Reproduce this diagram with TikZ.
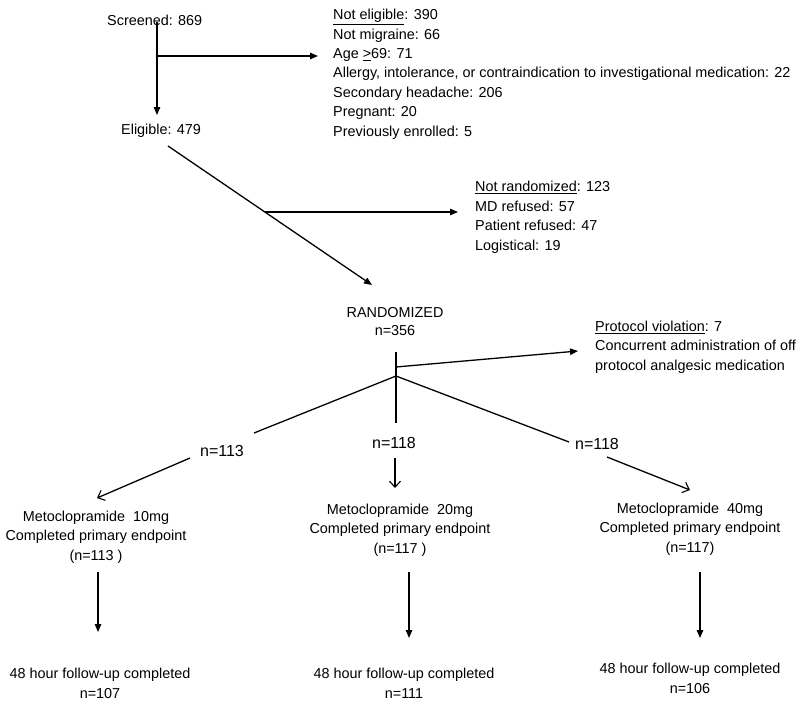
\documentclass[tikz,border=0pt]{standalone}
\usepackage{fontspec}
\setmainfont{Liberation Sans}
\usetikzlibrary{arrows.meta,positioning}

\begin{document}
\begin{tikzpicture}[x=1pt,y=-1pt,
    txt/.style={inner sep=0pt,font=\fontsize{14.4}{19.4}\selectfont},
    big/.style={inner sep=0pt,font=\fontsize{16}{19}\selectfont},
    ln/.style={line width=1.3pt},
    tri/.style={ln,-{Triangle[length=8pt,width=6.5pt]}},
    barb/.style={ln,-{Straight Barb[length=6pt,width=11pt,line width=1.1pt]}}]
    \useasboundingbox (0,0) rectangle (800,707);

    % Screening (base = last line of each text)
    \node[txt,anchor=base west] (scr) at (107,25) {Screened: 869};
    \node[txt,anchor=base west] (elig) at (121,134) {Eligible: 479};
    \node[txt,anchor=base west,align=left] (notel) at (333,136) {\underline{Not eligible}: 390\\
        Not migraine: 66\\
        Age \underline{>}69: 71\\
        Allergy, intolerance, or contraindication to investigational medication: 22\\
        Secondary headache: 206\\
        Pregnant: 20\\
        Previously enrolled: 5};
    \coordinate (scrtop) at (157,22);
    \coordinate (scrbr) at (157,56);
    \coordinate (eltop) at (157,115);
    \coordinate (notelin) at (318,56);
    \draw[tri] (scrtop) -- (eltop);
    \draw[tri] (scrbr) -- (notelin);

    % Randomization
    \node[txt,anchor=base west,align=left] (notrand) at (475,250) {\underline{Not randomized}: 123\\
        MD refused: 57\\
        Patient refused: 47\\
        Logistical: 19};
    \node[txt,anchor=base,align=center,font=\fontsize{14.4}{18}\selectfont] (rand) at (395,335) {RANDOMIZED\\n=356};
    \coordinate (elbot) at (168,146);
    \coordinate (randin) at (372,285);
    \coordinate (elbr) at (265,212);
    \coordinate (notrandin) at (458,212);
    \draw[tri] (elbot) -- (randin);
    \draw[tri] (elbr) -- (notrandin);

    % Protocol violation
    \node[txt,anchor=base west,align=left] (prot) at (595,370) {\underline{Protocol violation}: 7\\
        Concurrent administration of off\\
        protocol analgesic medication};
    \coordinate (rtop) at (396,352);
    \coordinate (pv) at (396,367);
    \coordinate (apex) at (396,376);
    \coordinate (rbot) at (396,423);
    \coordinate (protin) at (578,351);
    \draw[ln] (rtop) -- (rbot);
    \draw[tri] (pv) -- (protin);

    % Arms
    \node[big,anchor=base] (n1) at (222,456) {n=113};
    \node[big,anchor=base] (n2) at (394,448) {n=118};
    \node[big,anchor=base] (n3) at (597,449) {n=118};
    \coordinate (lend) at (254,433);
    \coordinate (rend) at (569,442);
    \draw[ln] (apex) -- (lend);
    \draw[ln] (apex) -- (rend);
    \coordinate (a1s) at (190,458);
    \coordinate (a1e) at (97,498);
    \coordinate (a2s) at (395,458);
    \coordinate (a2e) at (395,488);
    \coordinate (a3s) at (607,457);
    \coordinate (a3e) at (690,490);
    \draw[barb] (a1s) -- (a1e);
    \draw[barb] (a2s) -- (a2e);
    \draw[barb] (a3s) -- (a3e);

    \node[txt,anchor=base,align=center] (m1) at (96,560) {Metoclopramide\ \ 10mg\\Completed primary endpoint\\(n=113 )};
    \node[txt,anchor=base,align=center] (m2) at (400,553) {Metoclopramide\ \ 20mg\\Completed primary endpoint\\(n=117 )};
    \node[txt,anchor=base,align=center] (m3) at (690,552) {Metoclopramide\ \ 40mg\\Completed primary endpoint\\(n=117)};

    % Follow-up
    \node[txt,anchor=base,align=center] (f1) at (100,698) {48 hour follow-up completed\\n=107};
    \node[txt,anchor=base,align=center] (f2) at (404,698) {48 hour follow-up completed\\n=111};
    \node[txt,anchor=base,align=center] (f3) at (690,693) {48 hour follow-up completed\\n=106};
    \foreach \i/\x/\e in {1/98/632, 2/409/638, 3/700/638} {
        \coordinate (b\i s) at (\x,572);
        \coordinate (b\i e) at (\x,\e);
        \draw[tri] (b\i s) -- (b\i e);
    }
\end{tikzpicture}
\end{document}
